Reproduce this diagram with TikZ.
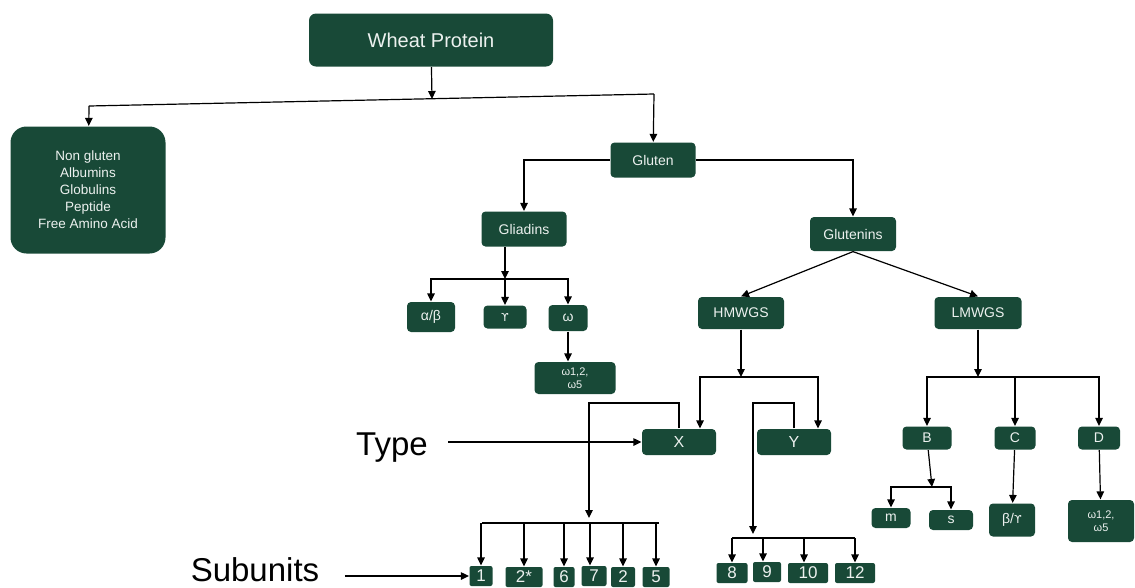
\documentclass[tikz,border=0pt]{standalone}
\usepackage{fontspec}
\setmainfont{Liberation Sans}
\newfontfamily\symfont{DejaVu Sans}
\usetikzlibrary{arrows.meta}
\definecolor{leaf}{RGB}{24,73,55}
\definecolor{chalk}{RGB}{236,241,239}
\newcommand{\ups}{{\symfont\fontsize{11}{11}\selectfont ϒ}}

\begin{document}
\begin{tikzpicture}[x=1pt,y=-1pt,line width=1.2pt,
    >={Triangle[length=8pt,width=7.5pt]},
    box/.style={fill=leaf, text=chalk, rounded corners=4pt, inner sep=0pt,
      align=center, font=\fontsize{14}{17}\selectfont},
    num/.style={box, rounded corners=2pt, font=\fontsize{17}{17}\selectfont},
    side/.style={inner sep=0pt, anchor=base, font=\fontsize{33}{33}\selectfont}]
  \useasboundingbox (0,0) rectangle (1135,587);

  \node (wheat)  [box, minimum width=244pt, minimum height=53pt, rounded corners=7pt,
                  font=\fontsize{20}{24}\selectfont] at (431,40) {Wheat Protein};
  \node (nong)   [box, minimum width=155pt, minimum height=127pt, rounded corners=16pt,
                  font=\fontsize{13.5}{17}\selectfont] at (88,190)
                 {Non gluten\\Albumins\\Globulins\\Peptide\\Free Amino Acid};
  \node (gluten) [box, minimum width=85pt, minimum height=35pt] at (653,160) {Gluten};
  \node (glia)   [box, minimum width=85pt, minimum height=35pt] at (524,229) {Gliadins};
  \node (glut)   [box, minimum width=86pt, minimum height=34pt] at (853,234) {Glutenins};
  \node (ab)     [box, minimum width=48pt, minimum height=30pt] at (431,317) {α/β};
  \node (ga)     [box, minimum width=43pt, minimum height=23pt] at (505,317) {\ups};
  \node (om)     [box, minimum width=39pt, minimum height=26pt] at (568,318) {ω};
  \node (om2)    [box, minimum width=81pt, minimum height=32pt,
                  font=\fontsize{11}{13}\selectfont] at (575,378) {ω1,2,\\ω5};
  \node (hm)     [box, minimum width=86pt, minimum height=32pt] at (741,313) {HMWGS};
  \node (lm)     [box, minimum width=87pt, minimum height=32pt] at (978,313) {LMWGS};
  \node (x)      [box, minimum width=74pt, minimum height=26pt,
                  font=\fontsize{16}{16}\selectfont] at (679,442) {X};
  \node (y)      [box, minimum width=74pt, minimum height=26pt,
                  font=\fontsize{16}{16}\selectfont] at (794,442) {Y};
  \node (b)      [box, minimum width=49pt, minimum height=23pt] at (927,438) {B};
  \node (c)      [box, minimum width=41pt, minimum height=23pt] at (1015,438) {C};
  \node (d)      [box, minimum width=42pt, minimum height=23pt] at (1099,438) {D};
  \node (m)      [box, minimum width=39pt, minimum height=20pt] at (891,518) {m};
  \node (s)      [box, minimum width=44pt, minimum height=20pt] at (951,520) {s};
  \node (bg)     [box, minimum width=46pt, minimum height=33pt] at (1012,520) {β/\ups};
  \node (dw)     [box, minimum width=66pt, minimum height=42pt,
                  font=\fontsize{11}{13}\selectfont] at (1101,521) {ω1,2,\\ω5};

  \node (s1)  [num, minimum width=23pt, minimum height=20pt] at (481,576) {1};
  \node (s2)  [num, minimum width=37pt, minimum height=20pt] at (524,577) {2*};
  \node (s6)  [num, minimum width=21pt, minimum height=20pt] at (564,577) {6};
  \node (s7)  [num, minimum width=25pt, minimum height=20pt] at (594,576) {7};
  \node (s2b) [num, minimum width=24pt, minimum height=20pt] at (623,577) {2};
  \node (s5)  [num, minimum width=27pt, minimum height=20pt] at (656,577) {5};
  \node (s8)  [num, minimum width=31pt, minimum height=20pt] at (732,573) {8};
  \node (s9)  [num, minimum width=28pt, minimum height=20pt] at (767,572) {9};
  \node (s10) [num, minimum width=40pt, minimum height=20pt] at (808,573) {10};
  \node (s12) [num, minimum width=40pt, minimum height=20pt] at (855,573) {12};

  \node (type) [side] at (392,455) {Type};
  \node (sub)  [side] at (255,581) {Subunits};

  \coordinate (wm) at (432,99);
  \coordinate (w1) at (89,106);
  \coordinate (w2) at (654,94);
  \coordinate (g0) at (505,279);
  \coordinate (h0) at (741,377);
  \coordinate (l0) at (978,377);
  \coordinate (b0) at (932,487);
  \coordinate (xa) at (589,403);
  \coordinate (xb) at (589,518);
  \coordinate (xl) at (482,523);
  \coordinate (xr) at (659,523);
  \coordinate (ya) at (753,403);
  \coordinate (yb) at (753,534);
  \coordinate (yl) at (732,538);
  \coordinate (yr) at (855,538);

  \draw [->] (wheat) -- (wm);
  \draw (w1) -- (w2);
  \draw [->] (w1) -- (nong);
  \draw [->] (w2) -- (gluten);
  \draw [->] (gluten) -| (glia);
  \draw [->] (gluten) -| (glut);

  \draw [->] (glia.south -| g0) -- (g0);
  \draw [->] (g0) -| (ab);
  \draw [->] (g0) -- (ga);
  \draw [->] (g0) -| (om);
  \draw [->] (om) -- (om.south |- om2.north);

  \draw [->] (glut.south) -- (hm.north);
  \draw [->] (glut.south) -- (lm.north);

  \draw [->] (hm) -- (h0);
  \draw [->] (h0) -| ([xshift=21pt]x.north);
  \draw [->] (h0) -| ([xshift=24pt]y.north);

  \draw [->] (x) |- (xa) -- (xb);
  \draw (xl) -- (xr);
  \draw [->] (s1 |- xl)  -- (s1);
  \draw [->] (s2 |- xl)  -- (s2);
  \draw [->] (s6 |- xl)  -- (s6);
  \draw [->] ([xshift=-4pt]s7.north |- xl) -- ([xshift=-4pt]s7.north);
  \draw [->] (s2b |- xl) -- (s2b);
  \draw [->] (s5 |- xl)  -- (s5);

  \draw [->] (y) |- (ya) -- (yb);
  \draw (yl) -- (yr);
  \draw [->] (s8 |- yl)  -- (s8);
  \draw [->] ([xshift=-4pt]s9.north |- yl) -- ([xshift=-4pt]s9.north);
  \draw [->] ([xshift=-4pt]s10.north |- yl) -- ([xshift=-4pt]s10.north);
  \draw [->] (s12 |- yl) -- (s12);

  \draw [->] (lm) -- (l0);
  \draw [->] (l0) -| (b);
  \draw [->] (l0) -| (c);
  \draw [->] (l0) -| (d);
  \draw [->] (b) -- (b0);
  \draw [->] (b0) -| (m);
  \draw [->] (b0) -| (s);
  \draw [->] (c) -- (bg);
  \draw [->] (d) -- (dw);

  \draw [->, shorten <=20pt] (type.east |- x) -- (x);
  \draw [->, shorten <=25pt] (sub.east |- s1) -- (s1);
\end{tikzpicture}
\end{document}
